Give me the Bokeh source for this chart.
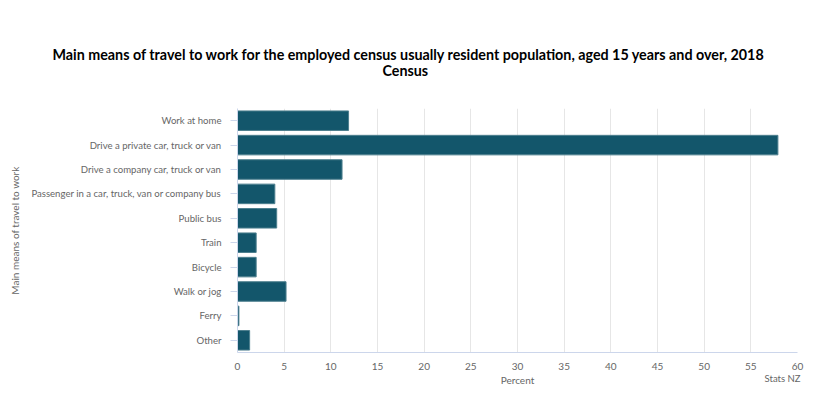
from bokeh.plotting import figure
from bokeh.models import FactorRange, Range1d, FixedTicker, ColumnDataSource, Title
from bokeh.embed import file_html
from bokeh.resources import INLINE

categories = [
    "Work at home",
    "Drive a private car, truck or van",
    "Drive a company car, truck or van",
    "Passenger in a car, truck, van or company bus",
    "Public bus",
    "Train",
    "Bicycle",
    "Walk or jog",
    "Ferry",
    "Other",
]
values = [11.9, 57.9, 11.2, 4.0, 4.2, 2.0, 2.0, 5.2, 0.15, 1.3]
x_ticks = [0, 5, 10, 15, 20, 25, 30, 35, 40, 45, 50, 55, 60]

title_line1 = "Main means of travel to work for the employed census usually resident population, aged 15 years and over, 2018"
title_line2 = "Census"
credit = "Stats NZ"

FONT = "Lato"
TXT = "#666666"
BAR = "#13566b"

src = ColumnDataSource(dict(cat=categories, val=values))

p = figure(
    width=820, height=397,
    y_range=FactorRange(factors=list(reversed(categories))),
    x_range=Range1d(0, 60),
    output_backend="svg", toolbar_location=None,
    min_border_left=237, min_border_right=23, min_border_top=108, min_border_bottom=45,
)
p.hbar(y="cat", right="val", left=0, height=0.8, source=src,
       fill_color=BAR, line_color="#4d7f8e", line_width=1)

p.outline_line_color = None
p.background_fill_color = "white"
p.border_fill_color = "white"

p.xgrid.grid_line_color = "#e6e6e6"
p.ygrid.grid_line_color = None

p.xaxis.ticker = FixedTicker(ticks=x_ticks)
p.xaxis.axis_line_color = "#ccd6eb"
p.xaxis.major_tick_line_color = None
p.xaxis.major_tick_out = 0
p.xaxis.major_tick_in = 0
p.xaxis.minor_tick_line_color = None
p.xaxis.major_label_text_font = FONT
p.xaxis.major_label_text_font_size = "10px"
p.xaxis.major_label_text_color = TXT
p.xaxis.major_label_standoff = 10
p.xaxis.axis_label = "Percent"
p.xaxis.axis_label_text_font = FONT
p.xaxis.axis_label_text_font_size = "10px"
p.xaxis.axis_label_text_font_style = "normal"
p.xaxis.axis_label_text_color = TXT
p.xaxis.axis_label_standoff = 1

p.yaxis.axis_line_color = "#ccd6eb"
p.yaxis.major_tick_line_color = "#ccd6eb"
p.yaxis.major_tick_out = 7
p.yaxis.major_tick_in = 0
p.yaxis.major_label_text_font = FONT
p.yaxis.major_label_text_font_size = "9.6px"
p.yaxis.major_label_text_color = TXT
p.yaxis.major_label_standoff = 9
p.yaxis.axis_label = "Main means of travel to work"
p.yaxis.axis_label_text_font = FONT
p.yaxis.axis_label_text_font_size = "10px"
p.yaxis.axis_label_text_font_style = "normal"
p.yaxis.axis_label_text_color = TXT
p.yaxis.axis_label_standoff = 7

# spacer between frame and title block
p.add_layout(Title(text=" ", text_font_size="1px", standoff=27), "above")
p.add_layout(Title(text=title_line2, align="left", offset=145,
                   text_font=FONT, text_font_size="14.3px", text_font_style="bold",
                   text_color="#000000", standoff=0), "above")
p.add_layout(Title(text=title_line1, align="left", offset=-185,
                   text_font=FONT, text_font_size="14.3px", text_font_style="bold",
                   text_color="#000000", standoff=-6), "above")

p.add_layout(Title(text=credit, align="right", vertical_align="top", offset=-3,
                   text_font=FONT, text_font_size="9.5px", text_font_style="normal",
                   text_color=TXT, standoff=-32), "below")

open("out.html", "w").write(file_html(p, INLINE))
